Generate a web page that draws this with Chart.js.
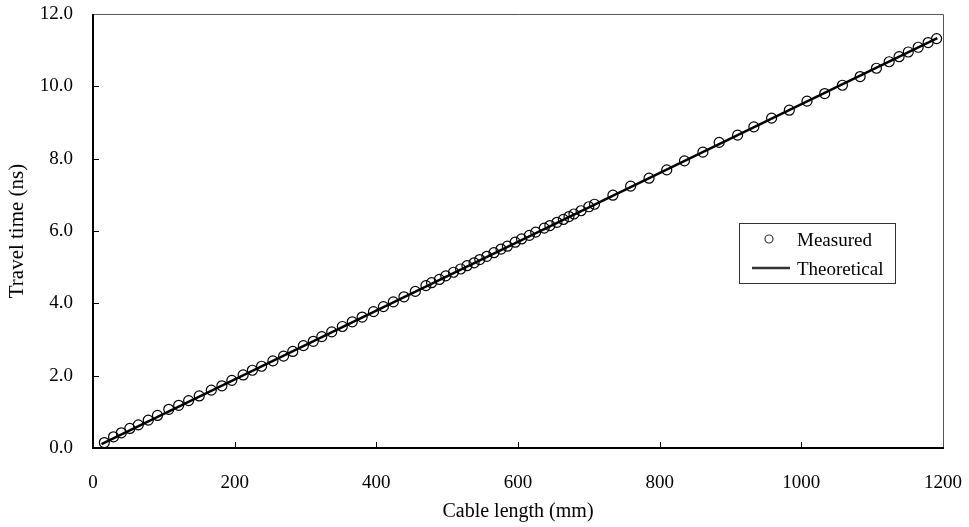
<!DOCTYPE html>
<html>
<head>
<meta charset="utf-8">
<script src="https://cdn.jsdelivr.net/npm/chart.js@4"></script>
<style>
  body { margin: 0; background: #fff; }
  #wrap { width: 969px; height: 527px; }
</style>
</head>
<body>
<div id="wrap"><canvas id="myChart"></canvas></div>
<script>
'use strict';

// measured travel times
let cableLength = [16, 29, 40, 52, 64, 78, 91, 107, 121, 135, 150, 167, 182, 196, 212, 225, 238, 254, 269, 282,
  297, 311, 323, 337, 352, 366, 380, 396, 410, 424, 439, 455, 470, 478, 489, 498, 509, 519, 528, 538,
  546, 556, 566, 576, 585, 596, 605, 616, 625, 637, 645, 655, 664, 672, 679, 689, 700, 708, 734, 759,
  785, 810, 835, 861, 884, 910, 933, 958, 983, 1008, 1033, 1058, 1083, 1106, 1124, 1138, 1151, 1165, 1179, 1191];
let travelTime = [0.15, 0.31, 0.42, 0.54, 0.64, 0.77, 0.90, 1.07, 1.18, 1.31, 1.44, 1.60, 1.72, 1.87, 2.02, 2.15, 2.26, 2.41, 2.54, 2.67,
  2.83, 2.95, 3.08, 3.21, 3.36, 3.49, 3.62, 3.77, 3.91, 4.04, 4.18, 4.33, 4.49, 4.57, 4.66, 4.76, 4.86, 4.95, 5.04, 5.12,
  5.21, 5.30, 5.40, 5.50, 5.58, 5.69, 5.78, 5.88, 5.97, 6.08, 6.15, 6.24, 6.32, 6.40, 6.47, 6.56, 6.67, 6.74, 6.99, 7.24,
  7.46, 7.69, 7.94, 8.18, 8.45, 8.65, 8.88, 9.12, 9.34, 9.59, 9.80, 10.03, 10.27, 10.50, 10.68, 10.82, 10.95, 11.08, 11.21, 11.32];

// theoretical line end points
let theoryLength = [12, 1192];
let theoryTime = [0.11, 11.33];

let xTicks = [0, 200, 400, 600, 800, 1000, 1200];
let yTicks = [0, 2, 4, 6, 8, 10, 12];

let fontFamily = '"Liberation Serif", "Times New Roman", serif';

function toPoints(xs, ys){
  let pts = [];
  for (let i = 0; i < xs.length; i++){
    pts.push({x: xs[i], y: ys[i]});
  }
  return pts;
}

// frame, inside tick marks and the boxed legend
let framePlugin = {
  id: 'frame',
  afterDatasetsDraw(chart){
    let ctx = chart.ctx;
    let a = chart.chartArea;
    let xs = chart.scales.x;
    let ys = chart.scales.y;
    ctx.save();

    ctx.strokeStyle = '#555';
    ctx.lineWidth = 1;
    ctx.beginPath();
    ctx.moveTo(a.left, a.top + 0.5);
    ctx.lineTo(a.right + 0.5, a.top + 0.5);
    ctx.lineTo(a.right + 0.5, a.bottom);
    ctx.stroke();

    ctx.strokeStyle = '#000';
    ctx.lineWidth = 2;
    ctx.beginPath();
    ctx.moveTo(a.left, a.top);
    ctx.lineTo(a.left, a.bottom);
    ctx.lineTo(a.right + 1, a.bottom);
    ctx.stroke();

    ctx.lineWidth = 1;
    ctx.beginPath();
    for (let i = 1; i < xTicks.length - 1; i++){
      let px = Math.round(xs.getPixelForValue(xTicks[i])) + 0.5;
      ctx.moveTo(px, a.bottom);
      ctx.lineTo(px, a.bottom - 6);
    }
    for (let i = 1; i < yTicks.length - 1; i++){
      let py = Math.round(ys.getPixelForValue(yTicks[i])) + 0.5;
      ctx.moveTo(a.left, py);
      ctx.lineTo(a.left + 6, py);
    }
    ctx.stroke();

    // legend
    let sets = chart.data.datasets;
    ctx.strokeStyle = '#333';
    ctx.lineWidth = 1;
    ctx.strokeRect(739.5, 223.5, 156, 60);
    ctx.font = '19px ' + fontFamily;
    ctx.fillStyle = '#000';
    ctx.textBaseline = 'alphabetic';
    ctx.textAlign = 'left';

    ctx.beginPath();
    ctx.arc(769, 239, 4, 0, Math.PI * 2);
    ctx.lineWidth = 1.2;
    ctx.stroke();
    ctx.fillText(sets[0].label, 797, 246);

    ctx.beginPath();
    ctx.moveTo(752, 268);
    ctx.lineTo(790, 268);
    ctx.lineWidth = 2.5;
    ctx.stroke();
    ctx.fillText(sets[1].label, 797, 275);

    ctx.restore();
  }
};

let ctx = document.getElementById('myChart').getContext('2d');
new Chart(ctx, {
  type: 'scatter',
  data: {
    datasets: [{
      label: 'Measured',
      data: toPoints(cableLength, travelTime),
      pointStyle: 'circle',
      pointRadius: 5,
      pointBorderWidth: 1.2,
      pointBorderColor: '#000',
      pointBackgroundColor: 'rgba(255,255,255,0)',
      showLine: false,
      order: 2
    },
    {
      label: 'Theoretical',
      data: toPoints(theoryLength, theoryTime),
      showLine: true,
      borderColor: '#000',
      borderWidth: 2.5,
      pointRadius: 0,
      order: 1
    }]
  },
  plugins: [framePlugin],
  options: {
    responsive: true,
    maintainAspectRatio: false,
    animation: false,
    layout: { padding: { left: 0, right: 26, top: 14, bottom: 0 } },
    plugins: {
      legend: { display: false },
      tooltip: { enabled: false }
    },
    scales: {
      x: {
        type: 'linear',
        min: 0,
        max: 1200,
        afterBuildTicks(scale){ scale.ticks = xTicks.map(v => ({value: v})); },
        afterFit(scale){
          scale.height = 79;
          scale.paddingLeft = 0;
          scale.paddingRight = 0;
        },
        border: { display: false },
        grid: { display: false, drawTicks: false },
        ticks: {
          color: '#000',
          padding: 24,
          font: { family: fontFamily, size: 19 },
          callback: value => String(value)
        },
        title: {
          display: true,
          text: 'Cable length (mm)',
          color: '#000',
          font: { family: fontFamily, size: 20 },
          padding: { top: 0, bottom: 3 }
        }
      },
      y: {
        type: 'linear',
        min: 0,
        max: 12,
        afterBuildTicks(scale){ scale.ticks = yTicks.map(v => ({value: v})); },
        afterFit(scale){
          scale.width = 93;
          scale.paddingTop = 0;
          scale.paddingBottom = 0;
        },
        border: { display: false },
        grid: { display: false, drawTicks: false },
        ticks: {
          color: '#000',
          padding: 20,
          font: { family: fontFamily, size: 19 },
          callback: value => value.toFixed(1)
        },
        title: {
          display: true,
          text: 'Travel time (ns)',
          color: '#000',
          font: { family: fontFamily, size: 21 },
          padding: { top: 5, bottom: 0 }
        }
      }
    }
  }
});
</script>
</body>
</html>
